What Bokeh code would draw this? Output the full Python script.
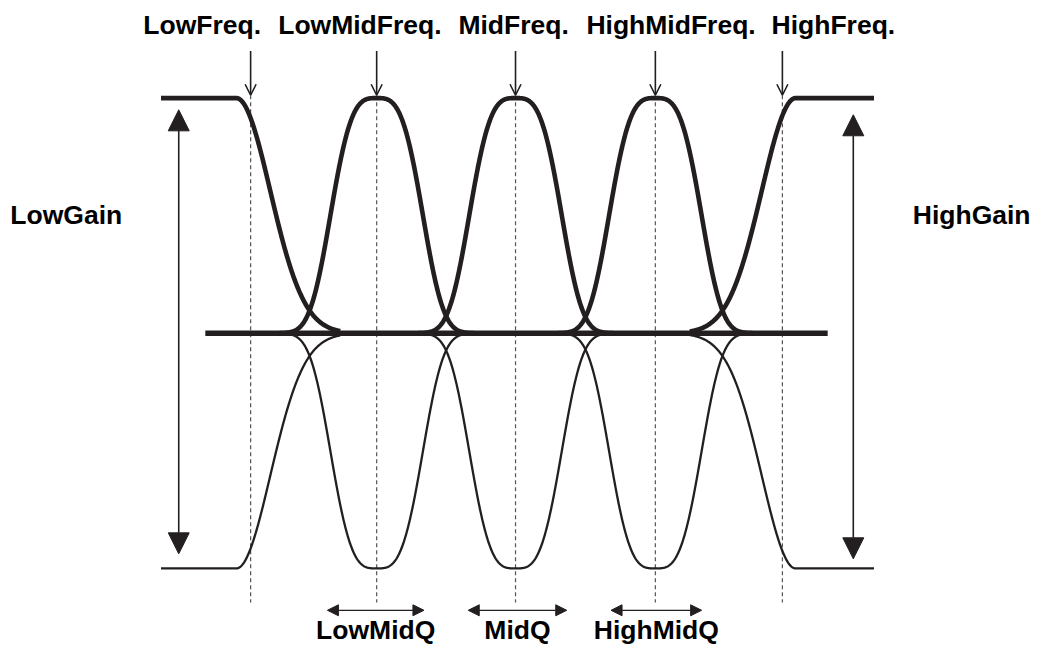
import numpy as np
from bokeh.plotting import figure
from bokeh.models import Range1d, Arrow, NormalHead, OpenHead, ColumnDataSource
from bokeh.core.properties import value
from bokeh.embed import file_html
from bokeh.resources import INLINE

# ---------------- data ----------------
band_labels = ["LowFreq.", "LowMidFreq.", "MidFreq.", "HighMidFreq.", "HighFreq."]
band_freq = [254, 382, 523, 665, 794]          # frequency positions of the five bands
peak_center = [382, 523, 665]                   # LowMid, Mid, HighMid peak centres
peak_width = [52.6, 52.6, 52.6]                 # bell width for each peak
peak_shape = 3.28
shelf_corner = [239.5, 807.5]                   # low shelf / high shelf corner
shelf_sigma = 34.4
boost_gain = 1.0
cut_gain = -1.0
freq_min, freq_max = 163, 887
base_min, base_max = 208, 840
q_labels = ["LowMidQ", "MidQ", "HighMidQ"]
q_center = [381, 525, 666]
q_half = [49, 50, 46]
gain_labels = ["LowGain", "HighGain"]
gain_arrow_x = [181, 866]
gain_arrow_lo = [-0.938, -0.959]
gain_arrow_hi = [0.950, 0.929]

INK = "#231f20"
FONT = value("Liberation Sans")
FS = "26.5px"

p = figure(width=1033, height=646, output_backend="svg", toolbar_location=None,
           x_range=Range1d(0, 1049), y_range=Range1d(-1.33195, 1.41494),
           min_border=0, outline_line_color=None, background_fill_color="white",
           border_fill_color="white")
p.axis.visible = False
p.grid.visible = False

# dashed band markers
p.segment(x0=band_freq, y0=[1.012] * 5, x1=band_freq, y1=[-1.145] * 5,
          line_dash="4 3", line_width=1.2, line_color="#555555")

def peak(x, c, w):
    return np.exp(-(np.abs(x - c) / w) ** peak_shape)

# low shelf
xl = np.linspace(freq_min, 345, 400)
vl = np.where(xl <= shelf_corner[0], 1.0,
              np.exp(-0.5 * ((xl - shelf_corner[0]) / shelf_sigma) ** 2))
# high shelf
xh = np.linspace(700, freq_max, 400)
vh = np.where(xh >= shelf_corner[1], 1.0,
              np.exp(-0.5 * ((shelf_corner[1] - xh) / shelf_sigma) ** 2))

curves = [(xl, vl), (xh, vh)]
for c, w in zip(peak_center, peak_width):
    xp = np.linspace(c - 100, c + 100, 400)
    curves.append((xp, peak(xp, c, w)))

for xs, vs in curves:
    p.line(xs, boost_gain * vs, line_width=4.6, line_color=INK, line_join="round")
    p.line(xs, cut_gain * vs, line_width=2.3, line_color=INK, line_join="round")

# flat baseline
p.line([base_min, base_max], [0, 0], line_width=5.5, line_color=INK)

# top band arrows
src_top = ColumnDataSource(dict(x0=band_freq, y0=[1.20] * 5, x1=band_freq, y1=[1.012] * 5))
p.add_layout(Arrow(end=OpenHead(size=11, line_width=1.6, line_color=INK),
                   x_start="x0", y_start="y0", x_end="x1", y_end="y1",
                   source=src_top, line_width=1.6, line_color=INK))

# gain arrows
src_gain = ColumnDataSource(dict(x0=gain_arrow_x, y0=gain_arrow_lo, x1=gain_arrow_x, y1=gain_arrow_hi))
p.add_layout(Arrow(start=NormalHead(size=21, fill_color=INK, line_color=INK),
                   end=NormalHead(size=21, fill_color=INK, line_color=INK),
                   x_start="x0", y_start="y0", x_end="x1", y_end="y1",
                   source=src_gain, line_width=1.6, line_color=INK))

# Q arrows
q_lo = [c - h for c, h in zip(q_center, q_half)]
q_hi = [c + h for c, h in zip(q_center, q_half)]
src_q = ColumnDataSource(dict(x0=q_lo, y0=[-1.178] * 3, x1=q_hi, y1=[-1.178] * 3))
p.add_layout(Arrow(start=NormalHead(size=11, fill_color=INK, line_color=INK),
                   end=NormalHead(size=11, fill_color=INK, line_color=INK),
                   x_start="x0", y_start="y0", x_end="x1", y_end="y1",
                   source=src_q, line_width=1.2, line_color=INK))

# labels
top_label_x = [145, 282, 465, 595, 783]
p.text(x=top_label_x, y=[1.31] * 5, text=band_labels, text_font=FONT,
       text_font_style="bold", text_font_size=FS, text_align="left",
       text_baseline="alphabetic", text_color="black")
p.text(x=[10], y=[0.504], text=[gain_labels[0]], text_font=FONT,
       text_font_style="bold", text_font_size=FS, text_align="left",
       text_baseline="alphabetic", text_color="black")
p.text(x=[1046], y=[0.504], text=[gain_labels[1]], text_font=FONT,
       text_font_style="bold", text_font_size=FS, text_align="right",
       text_baseline="alphabetic", text_color="black")
p.text(x=q_center, y=[-1.262] * 3, text=q_labels, text_font=FONT,
       text_font_style="bold", text_font_size=FS, text_align="center",
       text_baseline="alphabetic", text_color="black")

open("out.html", "w").write(file_html(p, INLINE))
